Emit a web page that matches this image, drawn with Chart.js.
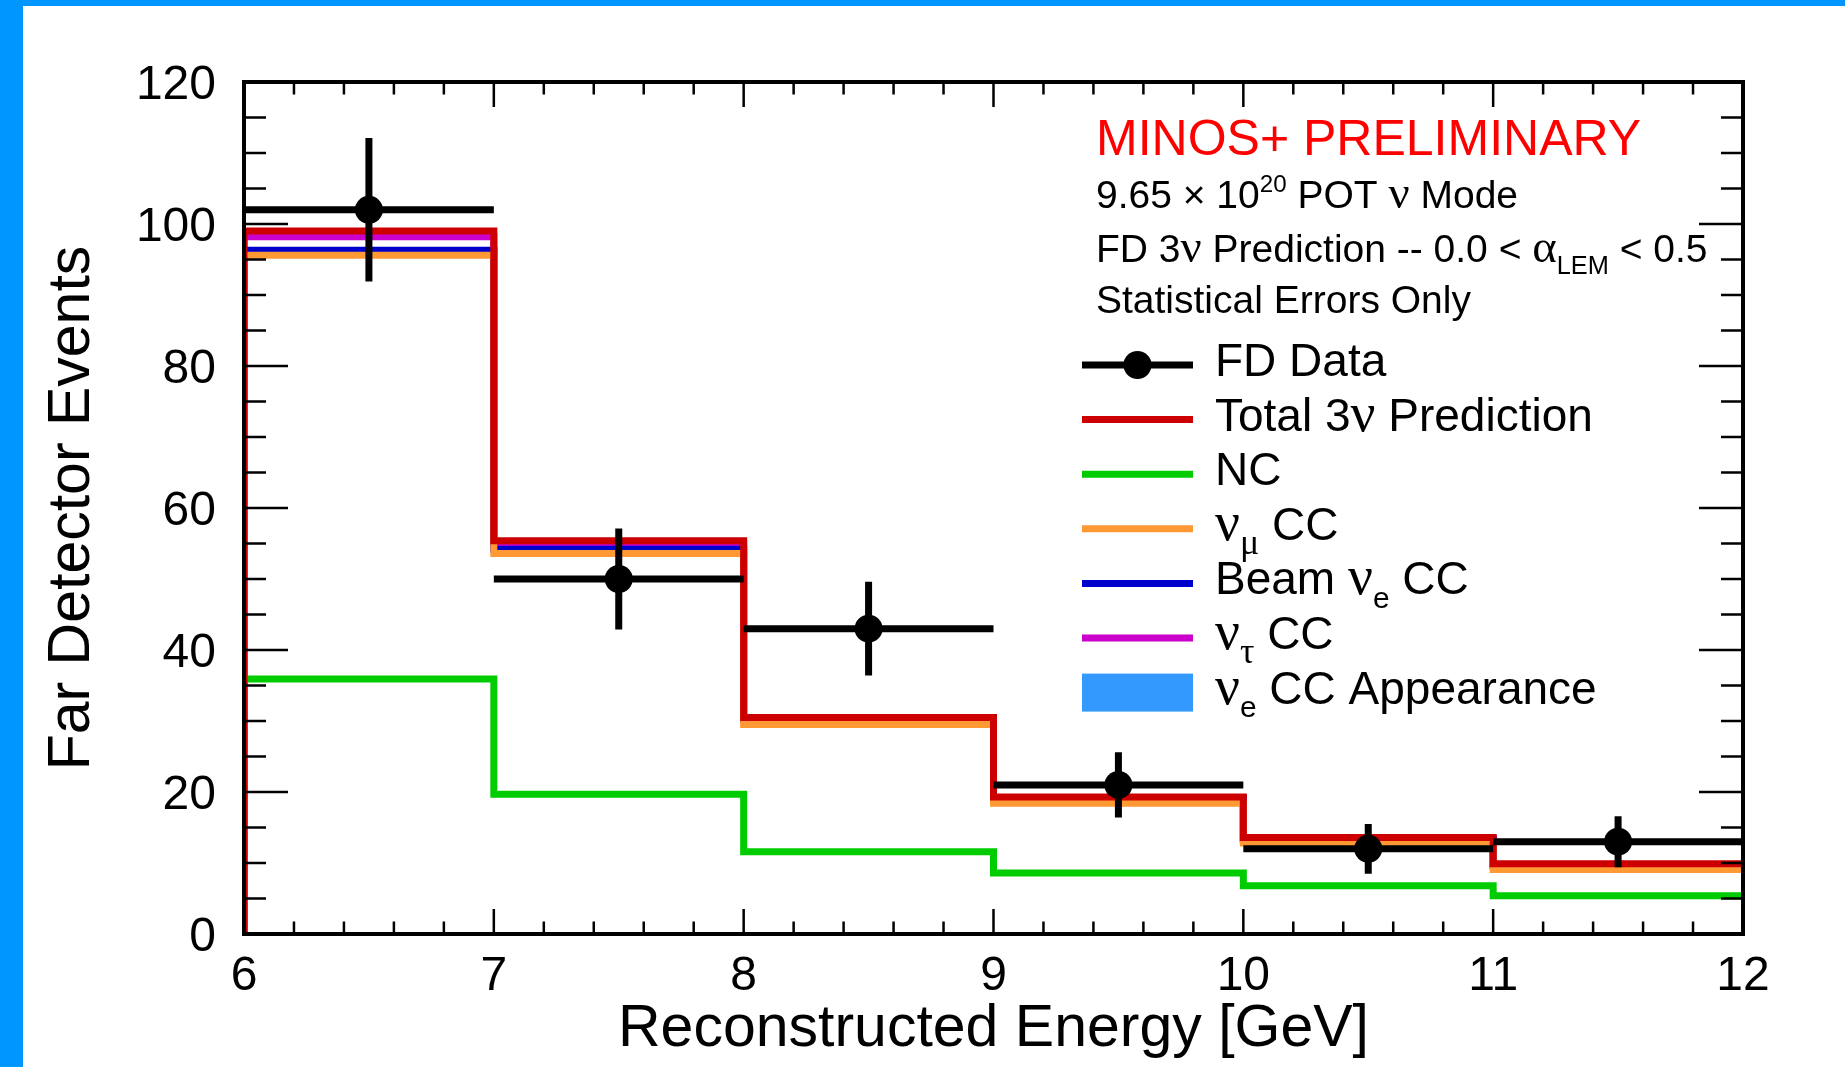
<!DOCTYPE html>
<html lang="en">
<head>
  <meta charset="UTF-8" />
  <title>FD 3ν Prediction</title>
  <script src="https://cdn.jsdelivr.net/npm/chart.js"></script>
  <style>
    body { margin: 0; background: #fff; overflow: hidden; }
    .edge { position: absolute; background: #0096ff; }
    #edgeLeft { left: 0; top: 0; width: 23px; height: 1067px; }
    #edgeTop { left: 0; top: 0; width: 1845px; height: 6px; }
    #plot { position: absolute; left: 0; top: 0; }
  </style>
</head>
<body>
  <div class="edge" id="edgeLeft"></div>
  <div class="edge" id="edgeTop"></div>
  <canvas id="plot" width="1845" height="1067"></canvas>

  <script>
    // Reconstructed energy bins [GeV]
    const binEdges = [6, 7, 8, 9, 10, 11, 12];

    // Stacked prediction outlines, events per bin
    const totalPred = [99.0, 55.4, 30.5, 19.3, 13.6, 9.9];
    const nuTauCC   = [98.2, 55.0, 30.4, 19.2, 13.5, 9.8];
    const beamNueCC = [96.3, 54.2, 30.2, 19.0, 13.3, 9.6];
    const numuCC    = [95.6, 53.6, 29.5, 18.4, 12.8, 9.1];
    const ncEvents  = [35.9, 19.7, 11.6, 8.6, 6.8, 5.4];

    // Far detector data with statistical errors
    const dataCounts = [102, 50, 43, 21, 12, 13];
    const dataErrors = [10.1, 7.1, 6.6, 4.6, 3.5, 3.6];

    const xTicks = [6, 7, 8, 9, 10, 11, 12];
    const yTicks = [0, 20, 40, 60, 80, 100, 120];

    const SANS = '"Liberation Sans", Helvetica, Arial, sans-serif';
    const SERIF = '"Liberation Serif", "Times New Roman", serif';

    const C_TOTAL = '#cc0000';
    const C_NC = '#00cc00';
    const C_NUMU = '#ff9933';
    const C_BEAMNUE = '#0000cc';
    const C_NUTAU = '#cc00cc';
    const C_APPEAR = '#3399ff';

    // outline of a histogram: up from zero at the first edge, then flat across each bin
    function histPoints(vals) {
      const pts = [{ x: binEdges[0], y: 0 }];
      vals.forEach((v, i) => {
        pts.push({ x: binEdges[i], y: v });
        pts.push({ x: binEdges[i + 1], y: v });
      });
      return pts;
    }

    function histSet(label, vals, color, order) {
      return {
        label, data: histPoints(vals), borderColor: color, borderWidth: 7,
        pointRadius: 0, fill: false, tension: 0, order, clip: 0,
        borderJoinStyle: 'miter', borderCapStyle: 'butt'
      };
    }

    const centers = binEdges.slice(0, -1).map((e, i) => (e + binEdges[i + 1]) / 2);

    // text with greek letters, sub- and superscripts
    // style flags: g = greek (serif), b = subscript, p = superscript
    function drawRich(ctx, runs, x, y, size, color) {
      ctx.fillStyle = color;
      ctx.textAlign = 'left';
      ctx.textBaseline = 'alphabetic';
      let cx = x;
      runs.forEach(([txt, st]) => {
        let s = size, dy = 0, fam = SANS;
        if (st.includes('g')) { fam = SERIF; s = size * 1.2; }
        if (st.includes('b')) { s = s * 0.65; dy = size * 0.3; }
        if (st.includes('p')) { s = size * 0.62; dy = -size * 0.42; }
        ctx.font = s + 'px ' + fam;
        ctx.fillText(txt, cx, y + dy);
        cx += ctx.measureText(txt).width;
      });
    }

    const infoLines = [
      { runs: [['MINOS+ PRELIMINARY', '']], size: 50, color: '#ff0000', y: 155 },
      { runs: [['9.65 × 10', ''], ['20', 'p'], [' POT ', ''], ['ν', 'g'], [' Mode', '']], size: 39, color: '#000', y: 208 },
      { runs: [['FD 3', ''], ['ν', 'g'], [' Prediction -- 0.0 < ', ''], ['α', 'g'], ['LEM', 'b'], [' < 0.5', '']], size: 39, color: '#000', y: 262 },
      { runs: [['Statistical Errors Only', '']], size: 39, color: '#000', y: 313 }
    ];

    const legendItems = [
      { kind: 'data', runs: [['FD Data', '']] },
      { kind: 'line', color: C_TOTAL, runs: [['Total 3', ''], ['ν', 'g'], [' Prediction', '']] },
      { kind: 'line', color: C_NC, runs: [['NC', '']] },
      { kind: 'line', color: C_NUMU, runs: [['ν', 'g'], ['μ', 'gb'], [' CC', '']] },
      { kind: 'line', color: C_BEAMNUE, runs: [['Beam ', ''], ['ν', 'g'], ['e', 'b'], [' CC', '']] },
      { kind: 'line', color: C_NUTAU, runs: [['ν', 'g'], ['τ', 'gb'], [' CC', '']] },
      { kind: 'box', color: C_APPEAR, runs: [['ν', 'g'], ['e', 'b'], [' CC Appearance', '']] }
    ];

    const rootStyle = {
      id: 'rootStyle',
      beforeDatasetDraw(chart, args) {
        if (chart.data.datasets[args.index].label !== 'FD Data') return;
        const ctx = chart.ctx, xs = chart.scales.x, ys = chart.scales.y;
        ctx.save();
        ctx.strokeStyle = '#000';
        ctx.lineWidth = 7;
        dataCounts.forEach((n, i) => {
          const px = xs.getPixelForValue(centers[i]);
          const py = ys.getPixelForValue(n);
          ctx.beginPath();
          ctx.moveTo(xs.getPixelForValue(binEdges[i]), py);
          ctx.lineTo(xs.getPixelForValue(binEdges[i + 1]), py);
          ctx.moveTo(px, ys.getPixelForValue(n + dataErrors[i]));
          ctx.lineTo(px, ys.getPixelForValue(n - dataErrors[i]));
          ctx.stroke();
        });
        ctx.restore();
      },
      afterDatasetsDraw(chart) {
        const ctx = chart.ctx, xs = chart.scales.x, ys = chart.scales.y;
        const { left, right, top, bottom } = chart.chartArea;
        ctx.save();
        ctx.strokeStyle = '#000';
        ctx.lineWidth = 2.5;
        ctx.beginPath();
        // x ticks, major every 1 GeV, minor every 0.2
        for (let k = 1; k < 30; k++) {
          const px = xs.getPixelForValue(6 + k * 0.2);
          const len = k % 5 === 0 ? 25 : 12.5;
          ctx.moveTo(px, bottom); ctx.lineTo(px, bottom - len);
          ctx.moveTo(px, top); ctx.lineTo(px, top + len);
        }
        // y ticks, major every 20, minor every 5
        for (let k = 1; k < 24; k++) {
          const py = ys.getPixelForValue(k * 5);
          const len = k % 4 === 0 ? 44 : 22;
          ctx.moveTo(left, py); ctx.lineTo(left + len, py);
          ctx.moveTo(right, py); ctx.lineTo(right - len, py);
        }
        ctx.stroke();
        ctx.lineWidth = 4;
        ctx.strokeRect(left, top, right - left, bottom - top);
        ctx.restore();
      },
      afterDraw(chart) {
        const ctx = chart.ctx;
        const { left, right, top, bottom } = chart.chartArea;
        ctx.save();

        // axis titles
        ctx.fillStyle = '#000';
        ctx.font = '59px ' + SANS;
        ctx.textAlign = 'center';
        ctx.textBaseline = 'alphabetic';
        ctx.fillText('Reconstructed Energy [GeV]', (left + right) / 2, 1046);
        ctx.save();
        ctx.translate(89, (top + bottom) / 2);
        ctx.rotate(-Math.PI / 2);
        ctx.fillText('Far Detector Events', 0, 0);
        ctx.restore();

        infoLines.forEach(l => drawRich(ctx, l.runs, 1096, l.y, l.size, l.color));

        // legend
        const x0 = 1082, x1 = 1193, tx = 1215;
        legendItems.forEach((item, i) => {
          const base = 376 + i * 54.6;
          const ly = base - 11;
          if (item.kind === 'data') {
            ctx.strokeStyle = '#000';
            ctx.lineWidth = 7;
            ctx.beginPath(); ctx.moveTo(x0, ly); ctx.lineTo(x1, ly); ctx.stroke();
            ctx.fillStyle = '#000';
            ctx.beginPath(); ctx.arc((x0 + x1) / 2, ly, 14, 0, Math.PI * 2); ctx.fill();
          } else if (item.kind === 'line') {
            ctx.strokeStyle = item.color;
            ctx.lineWidth = 7;
            ctx.beginPath(); ctx.moveTo(x0, ly); ctx.lineTo(x1, ly); ctx.stroke();
          } else {
            ctx.fillStyle = item.color;
            ctx.fillRect(x0, ly - 19, x1 - x0, 38);
          }
          drawRich(ctx, item.runs, tx, base, 46, '#000');
        });
        ctx.restore();
      }
    };

    new Chart(document.getElementById('plot'), {
      type: 'line',
      data: {
        datasets: [
          {
            label: 'FD Data',
            data: centers.map((c, i) => ({ x: c, y: dataCounts[i] })),
            showLine: false, pointRadius: 14, pointHoverRadius: 14,
            pointBackgroundColor: '#000', pointBorderWidth: 0, order: 1
          },
          histSet('Total 3ν Prediction', totalPred, C_TOTAL, 2),
          histSet('NC', ncEvents, C_NC, 3),
          histSet('νμ CC', numuCC, C_NUMU, 4),
          histSet('Beam νe CC', beamNueCC, C_BEAMNUE, 5),
          histSet('ντ CC', nuTauCC, C_NUTAU, 6)
        ]
      },
      options: {
        responsive: false,
        animation: false,
        devicePixelRatio: 1,
        layout: { padding: { top: 82, right: 102, left: 0, bottom: 0 } },
        plugins: { legend: { display: false }, tooltip: { enabled: false } },
        scales: {
          x: {
            type: 'linear', min: 6, max: 12,
            afterFit: s => { s.height = 133; },
            afterBuildTicks: s => { s.ticks = xTicks.map(v => ({ value: v })); },
            grid: { display: false, drawTicks: false },
            border: { display: false },
            ticks: {
              color: '#000', padding: 14, maxRotation: 0, autoSkip: false,
              font: { family: SANS, size: 48 }
            }
          },
          y: {
            type: 'linear', min: 0, max: 120,
            afterFit: s => { s.width = 244; },
            afterBuildTicks: s => { s.ticks = yTicks.map(v => ({ value: v })); },
            grid: { display: false, drawTicks: false },
            border: { display: false },
            ticks: {
              color: '#000', padding: 28, labelOffset: 4,
              font: { family: SANS, size: 48 }
            }
          }
        }
      },
      plugins: [rootStyle]
    });
  </script>
</body>
</html>
